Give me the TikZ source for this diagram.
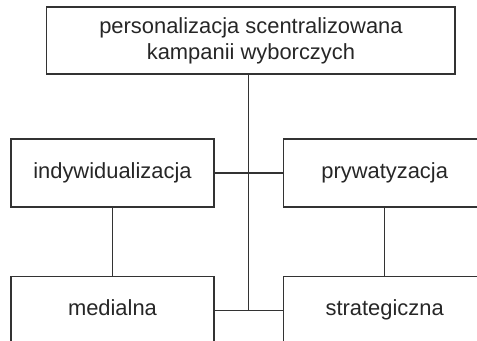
\documentclass[tikz,border=0pt]{standalone}
\usepackage{fontspec}
\setmainfont{Liberation Sans}
\usepackage{tikz}
\usetikzlibrary{positioning}

\begin{document}
\begin{tikzpicture}[
      font=\fontsize{11}{13}\selectfont,
      block/.style={draw=black!80, text=black!85, line width=0.6pt, minimum height=1.2cm, minimum width=3.58cm, align=center, inner sep=2pt},
      cell/.style={block, text height=0.75em, text depth=0.2em},
      title/.style={block, minimum height=1.18cm, minimum width=7.2cm},
      link/.style={draw=black!80, line width=0.6pt}
    ]
    \clip (0,0) rectangle (8.414,-6.015);
    %% top box
    \node[title] (pers) at (4.427,-0.714) {personalizacja scentralizowana\\kampanii wyborczych};
    %% middle row
    \node[cell] (indyw) at (1.984,-3.052) {indywidualizacja};
    \node[cell, right=1.2cm of indyw] (pryw) {prywatyzacja};
    %% bottom row
    \node[cell, below=1.2cm of indyw] (med) {medialna};
    \node[cell, right=1.2cm of med] (strat) {strategiczna};
    \path (indyw.east) -- (pryw.west) coordinate[midway] (mid);
    \draw[link] (indyw) -- (pryw);
    \draw[link] (med) -- (strat);
    \draw[link] (indyw) -- (med);
    \draw[link] (pryw) -- (strat);
    \draw[link] (pers.south -| mid) -- (med.east -| mid);
  \end{tikzpicture}
\end{document}
